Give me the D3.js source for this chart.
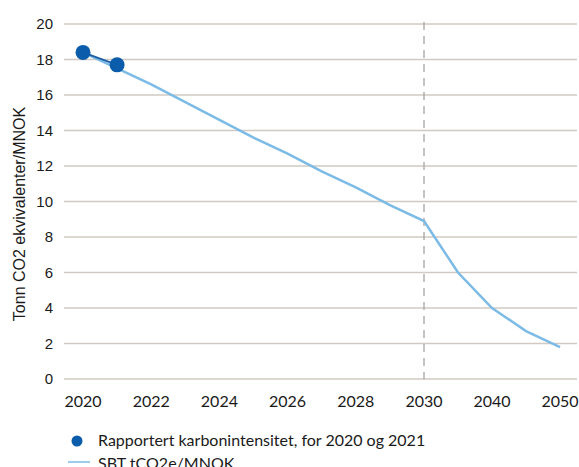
<!DOCTYPE html>
<meta charset="utf-8">
<style>
  body{ margin:0; background:#fff; }
  text{ fill:#1a1a1a; }
  .ytick text{ font-family:"Liberation Sans", Arial, sans-serif; font-size:15px; }
  .xtick text, .legend text{ font-family:Lato, sans-serif; font-size:16px; }
</style>

<svg width="579" height="467"></svg>

<script src="https://cdn.jsdelivr.net/npm/d3@7"></script>
<script>
  // data
  const reportedYears = [2020, 2021]
  const reportedValues = [18.4, 17.7]

  const sbtYears = [2020, 2021, 2022, 2023, 2024, 2025, 2026, 2027, 2028, 2029, 2030, 2035, 2040, 2045, 2050]
  const sbtValues = [18.4, 17.5, 16.6, 15.6, 14.6, 13.6, 12.7, 11.7, 10.8, 9.8, 8.9, 6.0, 4.0, 2.7, 1.8]

  const xTicks = [2020, 2022, 2024, 2026, 2028, 2030, 2040, 2050]
  const yTicks = [0, 2, 4, 6, 8, 10, 12, 14, 16, 18, 20]

  const legendLabels = ['Rapportert karbonintensitet, for 2020 og 2021', 'SBT tCO2e/MNOK']
  const yTitle = 'Tonn CO2 ekvivalenter/MNOK'

  const svg = d3.select('svg')

  // broken x axis: 2020-2030 yearly, then 10-year steps
  const x = d3.scaleLinear()
    .domain([2020, 2030, 2050])
    .range([83, 424, 560])
  const y = d3.scaleLinear()
    .domain([0, 20])
    .range([379, 24])

  const gridLeft = 64, gridRight = 577

  // gridlines + y labels
  const yg = svg.append('g').attr('class', 'ytick')
  yg.selectAll('line')
    .data(yTicks)
    .enter()
    .append('line')
    .attr('x1', gridLeft).attr('x2', gridRight)
    .attr('y1', d=>y(d)).attr('y2', d=>y(d))
    .attr('stroke', '#d2cac2')
    .attr('stroke-width', 1.3)
  yg.selectAll('text')
    .data(yTicks)
    .enter()
    .append('text')
    .attr('x', 53)
    .attr('y', d=>y(d))
    .attr('dy', '0.36em')
    .attr('text-anchor', 'end')
    .text(d=>d)

  // x labels
  svg.append('g').attr('class', 'xtick')
    .selectAll('text')
    .data(xTicks)
    .enter()
    .append('text')
    .attr('x', d=>x(d))
    .attr('y', 407)
    .attr('text-anchor', 'middle')
    .text(d=>d)

  // dashed line at 2030
  svg.append('line')
    .attr('x1', x(2030)).attr('x2', x(2030))
    .attr('y1', 22).attr('y2', y(0))
    .attr('stroke', '#a8a4a0')
    .attr('stroke-width', 1.3)
    .attr('stroke-dasharray', '8,6')

  // y title
  svg.append('text')
    .attr('transform', 'translate(25,214) rotate(-90)')
    .attr('text-anchor', 'middle')
    .style('font-family', '"Liberation Sans", Arial, sans-serif')
    .style('font-size', '16px')
    .text(yTitle)

  const line = d3.line()
    .x(d=>x(d[0]))
    .y(d=>y(d[1]))

  // SBT path
  svg.append('path')
    .datum(d3.zip(sbtYears, sbtValues))
    .attr('d', line)
    .attr('fill', 'none')
    .attr('stroke', '#7cbbe6')
    .attr('stroke-width', 2.5)

  // reported
  const rep = d3.zip(reportedYears, reportedValues)
  svg.append('path')
    .datum(rep)
    .attr('d', line)
    .attr('fill', 'none')
    .attr('stroke', '#1f5fa6')
    .attr('stroke-width', 2)
  svg.selectAll('circle.rep')
    .data(rep)
    .enter()
    .append('circle')
    .attr('class', 'rep')
    .attr('cx', d=>x(d[0]))
    .attr('cy', d=>y(d[1]))
    .attr('r', 7.5)
    .attr('fill', '#0b5cab')

  // legend
  const lg = svg.append('g').attr('class', 'legend')
  lg.append('circle')
    .attr('cx', 77).attr('cy', 441).attr('r', 5.5)
    .attr('fill', '#0b5cab')
  lg.append('line')
    .attr('x1', 68).attr('x2', 90)
    .attr('y1', 462).attr('y2', 462)
    .attr('stroke', '#7cbbe6')
    .attr('stroke-width', 1.5)
  lg.selectAll('text')
    .data(legendLabels)
    .enter()
    .append('text')
    .attr('x', 98)
    .attr('y', (d, i)=>446 + i*23)
    .text(d=>d)
</script>
